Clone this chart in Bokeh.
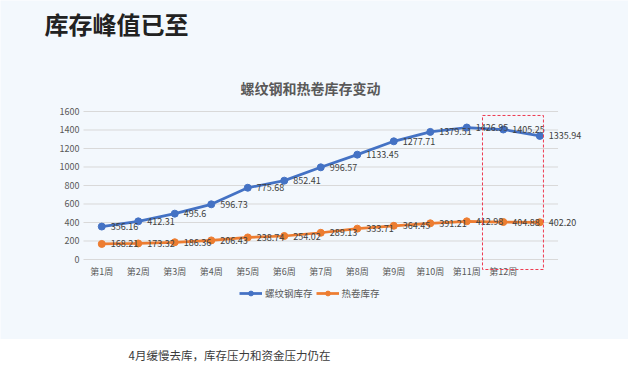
from bokeh.plotting import figure
from bokeh.models import (ColumnDataSource, LabelSet, Label, Legend, LegendItem,
                          FixedTicker, BoxAnnotation)
from bokeh.layouts import column
from bokeh.core.properties import value
from bokeh.embed import file_html
from bokeh.resources import INLINE

weeks = list(range(1, 14))
week_labels = {i: f"第{i}周" for i in range(1, 13)}
rebar = [356.16, 412.31, 495.6, 596.73, 775.68, 852.41, 996.57, 1133.45,
         1277.71, 1379.51, 1426.95, 1405.25, 1335.94]
rebar_text = ["356.16", "412.31", "495.6", "596.73", "775.68", "852.41", "996.57",
              "1133.45", "1277.71", "1379.51", "1426.95", "1405.25", "1335.94"]
hrc = [168.21, 173.32, 186.36, 206.43, 238.74, 254.02, 289.13, 333.71,
       364.45, 391.21, 412.98, 404.88, 402.20]
hrc_text = ["168.21", "173.32", "186.36", "206.43", "238.74", "254.02", "289.13",
            "333.71", "364.45", "391.21", "412.98", "404.88", "402.20"]
y_ticks = [0, 200, 400, 600, 800, 1000, 1200, 1400, 1600]

BG = "#F3F8FD"
BLUE = "#4472C4"
ORANGE = "#ED7D31"
FONT = "Noto Sans CJK SC"

src = ColumnDataSource(dict(x=weeks, rebar=rebar, rebar_text=rebar_text,
                            hrc=hrc, hrc_text=hrc_text))
grid_src = ColumnDataSource(dict(y=y_ticks, x0=[0.5] * len(y_ticks),
                                 x1=[13.5] * len(y_ticks)))

# whole canvas is the frame; axes are placed at fixed data locations
p = figure(width=628, height=339, x_range=(-1.774, 15.43), y_range=(-864.9, 2800),
           output_backend="svg", toolbar_location=None, min_border=0)
p.background_fill_color = BG
p.border_fill_color = BG
p.outline_line_color = None
p.xgrid.grid_line_color = None
p.ygrid.grid_line_color = None

p.xaxis.ticker = FixedTicker(ticks=list(range(1, 13)))
p.xaxis.major_label_overrides = week_labels
p.yaxis.ticker = FixedTicker(ticks=y_ticks)
p.xaxis.fixed_location = 0
p.yaxis.fixed_location = 0.5
for ax in (p.xaxis, p.yaxis):
    ax.axis_line_color = None
    ax.major_tick_line_color = None
    ax.minor_tick_line_color = None
    ax.major_tick_out = 0
    ax.major_tick_in = 0
    ax.minor_tick_out = 0
    ax.minor_tick_in = 0
    ax.major_label_text_font = FONT
    ax.major_label_text_font_size = "9px"
    ax.major_label_text_color = "#595959"
p.xaxis.major_label_standoff = 6
p.yaxis.major_label_standoff = 4

p.segment(x0="x0", x1="x1", y0="y", y1="y", source=grid_src,
          line_color="#D9D9D9", line_width=1)

l1 = p.line("x", "rebar", source=src, line_color=BLUE, line_width=2.75)
s1 = p.scatter("x", "rebar", source=src, size=7, fill_color=BLUE, line_color=BLUE)
l2 = p.line("x", "hrc", source=src, line_color=ORANGE, line_width=2.75)
s2 = p.scatter("x", "hrc", source=src, size=7, fill_color=ORANGE, line_color=ORANGE)

for col in ("rebar", "hrc"):
    p.add_layout(LabelSet(x="x", y=col, text=col + "_text", source=src,
                          x_offset=9, y_offset=0, text_align="left",
                          text_baseline="middle", text_font=value(FONT),
                          text_font_size="9px", text_color="#404040"))

p.add_layout(BoxAnnotation(left=11.43, right=13.1, top=1557, bottom=-108,
                           fill_alpha=0, line_color="#EE3B50", line_alpha=1,
                           line_width=1, line_dash="3 2"))

p.add_layout(Label(x=44, y=316, x_units="screen", y_units="screen",
                   text="库存峰值已至", text_font=FONT, text_font_size="24px",
                   text_font_style="bold", text_color="#222222",
                   text_baseline="middle", text_align="left"))
p.add_layout(Label(x=310, y=252, x_units="screen", y_units="screen",
                   text="螺纹钢和热卷库存变动", text_font=FONT, text_font_size="14px",
                   text_font_style="bold", text_color="#595959",
                   text_baseline="middle", text_align="center"))

legend = Legend(items=[LegendItem(label="螺纹钢库存", renderers=[l1, s1]),
                       LegendItem(label="热卷库存", renderers=[l2, s2])],
                location=(239, 39), orientation="horizontal",
                padding=0, margin=0, spacing=3, label_standoff=3,
                glyph_width=23, glyph_height=12,
                border_line_color=None, background_fill_alpha=0,
                label_text_font=FONT, label_text_font_size="9.5px",
                label_text_color="#595959")
p.add_layout(legend, "center")

p2 = figure(width=628, height=32, output_backend="svg", toolbar_location=None,
            x_axis_type=None, y_axis_type=None, min_border=0,
            x_range=(0, 1), y_range=(0, 1))
p2.outline_line_color = None
p2.background_fill_color = "#FFFFFF"
p2.border_fill_color = "#FFFFFF"
p2.xgrid.grid_line_color = None
p2.ygrid.grid_line_color = None
p2.add_layout(Label(x=128, y=17, x_units="screen", y_units="screen",
                    text="4月缓慢去库，库存压力和资金压力仍在", text_font=FONT,
                    text_font_size="11.5px", text_color="#3A3A3A",
                    text_baseline="middle", text_align="left"))

layout = column(p, p2, spacing=0)
open("out.html", "w").write(file_html(layout, INLINE))
